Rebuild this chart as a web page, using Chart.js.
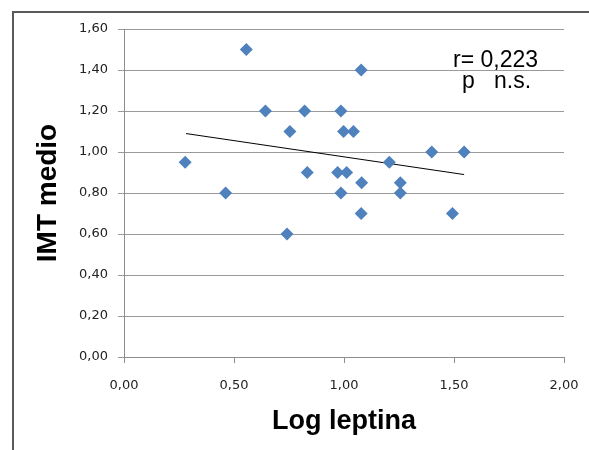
<!DOCTYPE html>
<html lang="es">
<head>
    <meta charset="UTF-8">
    <title>IMT medio vs Log leptina</title>
    <style>
        html, body {
            margin: 0;
            padding: 0;
            background: #fff;
            overflow: hidden;
        }
        #wrap {
            position: relative;
            width: 589px;
            height: 450px;
        }
        #frame {
            position: absolute;
            left: 12px;
            top: 11px;
            width: 640px;
            height: 500px;
            border: 2px solid #5a5a5a;
            pointer-events: none;
        }
        canvas {
            position: absolute;
            left: 0;
            top: 0;
        }
    </style>
</head>
<body>
<div id="wrap">
    <canvas id="myChart" width="589" height="450"></canvas>
    <div id="frame"></div>
</div>

<script src="https://cdn.jsdelivr.net/npm/chart.js"></script>
<script>
    // datos
    var logLeptina = [0.556, 1.078, 0.643, 0.821, 0.986, 0.754, 0.998, 1.043, 1.399, 1.546,
                      0.278, 1.206, 0.833, 0.971, 1.012, 1.080, 1.256, 0.462, 0.986, 1.256,
                      1.078, 1.493, 0.741];
    var imtMedio   = [1.50, 1.40, 1.20, 1.20, 1.20, 1.10, 1.10, 1.10, 1.00, 1.00,
                      0.95, 0.95, 0.90, 0.90, 0.90, 0.85, 0.85, 0.80, 0.80, 0.80,
                      0.70, 0.70, 0.60];
    // recta de tendencia (extremos)
    var trendX = [0.282, 1.546];
    var trendY = [1.09, 0.89];

    var xTicks = [0, 0.5, 1.0, 1.5, 2.0];
    var yTicks = [0, 0.2, 0.4, 0.6, 0.8, 1.0, 1.2, 1.4, 1.6];
    var annotation = ['r= 0,223', 'p   n.s.'];

    function fmt(v) {
        return v.toFixed(2).replace('.', ',');
    }

    var puntos = logLeptina.map(function (x, i) { return { x: x, y: imtMedio[i] }; });
    var tendencia = trendX.map(function (x, i) { return { x: x, y: trendY[i] }; });

    var textoPlugin = {
        id: 'texto',
        afterDraw: function (chart) {
            var ctx = chart.ctx;
            ctx.save();
            ctx.fillStyle = '#000';
            ctx.font = '23px "Liberation Sans", Arial, sans-serif';
            ctx.textBaseline = 'alphabetic';
            ctx.fillText(annotation[0], 453, 67);
            ctx.fillText(annotation[1], 462, 88);
            ctx.restore();
        }
    };

    var ctx = document.getElementById('myChart').getContext('2d');
    var myChart = new Chart(ctx, {
        type: 'scatter',
        data: {
            datasets: [{
                label: 'IMT medio',
                data: puntos,
                pointStyle: 'rectRot',
                pointRadius: 6.5,
                pointHoverRadius: 6.5,
                backgroundColor: '#4F81BD',
                borderColor: '#4F81BD',
                borderWidth: 0
            }, {
                label: 'tendencia',
                type: 'line',
                data: tendencia,
                borderColor: '#000',
                borderWidth: 1,
                pointRadius: 0,
                fill: false
            }]
        },
        options: {
            responsive: false,
            animation: false,
            layout: {
                padding: { top: 29, right: 25, left: 0, bottom: 0 }
            },
            plugins: {
                legend: { display: false },
                tooltip: { enabled: false }
            },
            scales: {
                x: {
                    type: 'linear',
                    min: 0,
                    max: 2,
                    afterBuildTicks: function (s) {
                        s.ticks = xTicks.map(function (v) { return { value: v }; });
                    },
                    afterFit: function (s) {
                        s.height = 93;
                        s.paddingRight = 0;
                        s.paddingLeft = 0;
                    },
                    ticks: {
                        callback: function (v) { return fmt(v); },
                        color: '#222',
                        font: { family: 'DejaVu Sans', size: 13 },
                        padding: 15,
                        maxRotation: 0
                    },
                    grid: {
                        drawOnChartArea: false,
                        drawTicks: true,
                        tickLength: 6,
                        color: '#8c8c8c'
                    },
                    border: { display: true, color: '#8c8c8c', width: 1 },
                    title: {
                        display: true,
                        text: 'Log leptina',
                        color: '#000',
                        font: { family: 'Liberation Sans', size: 27, weight: 'bold' },
                        padding: { top: 0, bottom: 12 }
                    }
                },
                y: {
                    type: 'linear',
                    min: 0,
                    max: 1.6,
                    afterBuildTicks: function (s) {
                        s.ticks = yTicks.map(function (v) { return { value: v }; });
                    },
                    afterFit: function (s) { s.width = 124; },
                    ticks: {
                        callback: function (v) { return fmt(v); },
                        color: '#222',
                        font: { family: 'DejaVu Sans', size: 13 },
                        padding: 10
                    },
                    grid: {
                        color: '#9a9a9a',
                        drawTicks: true,
                        tickLength: 6
                    },
                    border: { display: true, color: '#8c8c8c', width: 1 },
                    title: {
                        display: true,
                        text: 'IMT medio',
                        color: '#000',
                        font: { family: 'Liberation Sans', size: 28, weight: 'bold' },
                        padding: { top: 31, bottom: 0 }
                    }
                }
            }
        },
        plugins: [textoPlugin]
    });
</script>
</body>
</html>
